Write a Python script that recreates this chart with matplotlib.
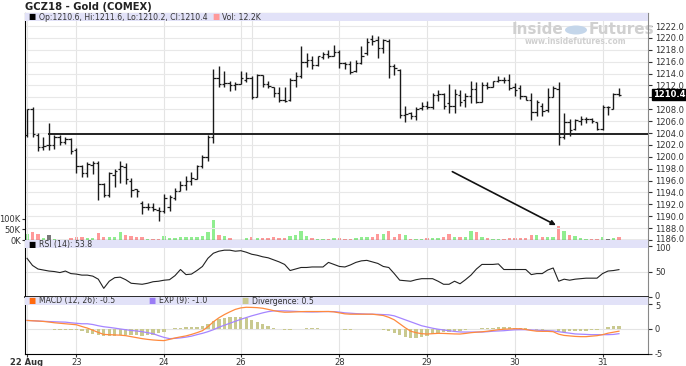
import matplotlib

matplotlib.use("Agg")
import matplotlib.pyplot as plt
from matplotlib.patches import Ellipse, Rectangle
from matplotlib.transforms import ScaledTranslation

# 90-minute bars, GCZ18, 22-31 Aug
opens = [1203.6, 1208.0, 1203.7, 1201.6, 1201.9, 1202.0, 1203.3, 1202.5, 1203.0, 1201.2,
         1198.4, 1197.3, 1198.6, 1199.0, 1195.5, 1193.5, 1197.0, 1198.0, 1198.2, 1196.0,
         1194.5, 1192.2, 1191.5, 1191.6, 1191.0, 1190.8, 1191.5, 1193.0, 1194.3, 1195.3,
         1196.0, 1196.3, 1198.5, 1200.0, 1203.4, 1213.2, 1212.2, 1212.4, 1212.0, 1212.3,
         1213.0, 1213.3, 1210.0, 1213.8, 1212.2, 1211.8, 1210.8, 1209.6, 1209.5, 1212.9,
         1213.6, 1216.0, 1216.2, 1215.5, 1216.8, 1217.3, 1217.0, 1217.6, 1215.7, 1215.6,
         1214.5, 1215.8, 1217.4, 1219.8, 1219.6, 1218.3, 1219.5, 1215.3, 1214.6, 1207.0,
         1207.3, 1206.8, 1208.2, 1208.5, 1208.3, 1210.4, 1210.6, 1209.0, 1208.5, 1210.4,
         1209.5, 1210.3, 1211.4, 1209.3, 1212.0, 1211.8, 1212.7, 1213.0, 1212.9, 1211.7,
         1211.6, 1210.2, 1209.6, 1207.5, 1208.6, 1207.8, 1210.1, 1211.4, 1203.3, 1205.8,
         1204.6, 1206.0, 1206.3, 1206.4, 1205.8, 1204.6, 1208.3, 1208.1, 1210.6]
highs = [1208.0, 1208.3, 1203.95, 1203.4, 1205.7, 1203.6, 1203.6, 1203.3, 1203.2, 1201.4,
         1198.6, 1199.2, 1199.3, 1199.3, 1195.6, 1197.5, 1197.9, 1199.3, 1199.0, 1196.5,
         1194.6, 1192.5, 1192.2, 1192.2, 1191.6, 1193.7, 1193.5, 1194.8, 1196.0, 1196.8,
         1197.4, 1198.6, 1200.3, 1203.7, 1214.7, 1215.2, 1214.5, 1212.8, 1212.6, 1214.5,
         1214.2, 1213.6, 1214.0, 1213.8, 1212.8, 1211.8, 1211.8, 1211.8, 1213.2, 1214.2,
         1218.6, 1217.4, 1217.0, 1217.0, 1217.7, 1218.0, 1218.8, 1217.9, 1216.0, 1216.1,
         1216.2, 1218.6, 1219.9, 1220.5, 1220.3, 1219.8, 1219.8, 1215.6, 1214.7, 1208.5,
         1207.6, 1208.4, 1209.3, 1209.4, 1210.8, 1211.2, 1210.8, 1212.2, 1211.4, 1211.3,
         1210.8, 1212.8, 1212.5, 1212.6, 1212.5, 1212.8, 1213.6, 1213.4, 1213.9, 1212.4,
         1212.0, 1210.3, 1210.8, 1209.6, 1209.0, 1211.5, 1211.9, 1212.6, 1207.3, 1206.3,
         1206.3, 1206.8, 1206.7, 1206.6, 1205.9, 1208.7, 1208.5, 1210.7, 1211.6]
lows = [1203.4, 1203.3, 1201.0, 1201.1, 1201.1, 1201.3, 1201.9, 1202.2, 1200.4, 1197.2,
        1196.6, 1196.6, 1197.1, 1192.7, 1193.2, 1193.3, 1195.0, 1195.6, 1195.4, 1193.3,
        1193.3, 1190.4, 1191.0, 1190.9, 1189.2, 1190.6, 1190.8, 1192.7, 1194.2, 1194.4,
        1195.3, 1196.3, 1198.1, 1199.3, 1202.3, 1211.8, 1211.8, 1211.0, 1211.2, 1212.3,
        1212.5, 1209.7, 1210.0, 1211.8, 1211.6, 1210.0, 1209.3, 1209.3, 1209.4, 1211.8,
        1213.2, 1215.1, 1214.8, 1215.3, 1216.5, 1216.6, 1216.9, 1214.9, 1214.8, 1214.0,
        1214.3, 1215.6, 1217.2, 1218.8, 1216.6, 1217.4, 1213.2, 1213.8, 1206.6, 1205.9,
        1206.4, 1206.2, 1207.9, 1208.0, 1208.0, 1209.4, 1208.0, 1207.3, 1207.4, 1208.5,
        1208.3, 1209.1, 1209.0, 1209.2, 1211.4, 1211.8, 1212.5, 1212.4, 1211.2, 1210.3,
        1209.7, 1209.6, 1206.2, 1206.8, 1206.9, 1207.6, 1210.0, 1202.0, 1203.0, 1203.5,
        1204.5, 1205.4, 1205.6, 1205.6, 1204.5, 1204.5, 1207.1, 1208.1, 1210.2]
closes = [1208.0, 1203.8, 1201.6, 1201.8, 1201.9, 1203.3, 1202.5, 1203.0, 1201.0, 1198.4,
          1197.2, 1198.8, 1198.9, 1195.5, 1193.5, 1197.3, 1197.6, 1198.5, 1196.2, 1194.4,
          1194.2, 1191.5, 1191.6, 1191.2, 1190.8, 1193.0, 1193.2, 1194.3, 1195.3, 1195.9,
          1196.5, 1198.4, 1199.9, 1203.3, 1213.2, 1212.2, 1212.4, 1212.0, 1212.3, 1213.3,
          1213.3, 1210.0, 1213.8, 1212.2, 1211.9, 1210.8, 1209.6, 1209.4, 1213.0, 1213.6,
          1216.0, 1216.2, 1215.5, 1217.0, 1217.3, 1217.0, 1217.6, 1215.7, 1215.6, 1214.3,
          1215.8, 1217.0, 1219.3, 1219.4, 1218.3, 1219.7, 1215.3, 1215.0, 1207.0, 1207.2,
          1206.8, 1208.1, 1208.5, 1208.3, 1210.4, 1210.6, 1208.5, 1208.5, 1210.5, 1209.3,
          1210.3, 1211.4, 1209.3, 1212.0, 1211.8, 1212.7, 1213.0, 1212.9, 1211.5, 1211.3,
          1210.2, 1209.6, 1207.5, 1209.2, 1207.7, 1210.1, 1211.5, 1203.3, 1205.8, 1204.5,
          1206.2, 1206.3, 1206.4, 1206.0, 1204.6, 1208.4, 1208.3, 1210.6, 1210.4]
volume_k = [29, 35, 29, 10, 21, 5, 2, 2, 10, 16, 13, 10, 11, 33, 13, 13, 13, 35, 25, 17,
            13, 16, 3, 3, 5, 17, 10, 10, 13, 13, 13, 13, 20, 35, 92, 25, 19, 8, 2, 2,
            10, 14, 11, 10, 10, 14, 11, 11, 20, 24, 44, 20, 11, 3, 3, 3, 8, 10, 5, 5,
            10, 16, 16, 16, 29, 27, 44, 13, 29, 21, 4, 3, 3, 8, 8, 8, 13, 27, 13, 13,
            16, 44, 37, 16, 10, 4, 3, 3, 8, 8, 8, 8, 21, 21, 16, 13, 13, 63, 44, 21,
            19, 8, 3, 3, 5, 16, 5, 8, 12.2]
rsi = [76, 62, 55, 53, 51, 50, 48, 51, 46, 45, 43, 43, 41, 35, 17, 31, 38, 39, 34, 27,
       26, 25, 27, 30, 31, 33, 34, 42, 54, 44, 45, 52, 60, 76, 86, 90, 92, 92, 90, 91,
       88, 84, 82, 79, 77, 73, 69, 64, 52, 55, 58, 58, 59, 59, 59, 68, 64, 60, 59, 63,
       68, 71, 72, 69, 66, 60, 58, 46, 33, 32, 31, 34, 36, 36, 36, 31, 25, 25, 31, 26,
       34, 43, 55, 64, 64, 64, 65, 54, 54, 54, 54, 54, 44, 46, 46, 53, 57, 31, 35, 33,
       35, 36, 37, 37, 37, 46, 51, 52, 53.8]
macd = [1.67, 1.6, 1.55, 1.47, 1.35, 1.2, 1.1, 1.0, 0.9, 0.8, 0.45, 0.13, -0.3, -0.75,
        -1.15, -1.2, -1.25, -1.3, -1.4, -1.6, -1.8, -2.0, -2.15, -2.27, -2.35, -2.4, -2.15,
        -1.87, -1.65, -1.45, -1.15, -0.8, -0.4, 0.4, 1.4, 2.2, 2.85, 3.4, 3.9, 4.2, 4.33,
        4.3, 4.25, 4.13, 3.9, 3.65, 3.45, 3.33, 3.35, 3.4, 3.45, 3.47, 3.47, 3.47, 3.47,
        3.47, 3.4, 3.2, 3.0, 2.93, 2.93, 2.93, 2.93, 2.93, 2.8, 2.67, 2.3, 1.8, 1.0, 0.2,
        -0.5, -0.8, -1.0, -1.07, -1.0, -0.93, -0.95, -1.0, -1.05, -1.07, -0.95, -0.8, -0.7,
        -0.62, -0.5, -0.35, -0.2, -0.1, -0.05, 0.0, 0.0, -0.15, -0.35, -0.5, -0.53, -0.53,
        -0.6, -1.1, -1.35, -1.45, -1.55, -1.6, -1.6, -1.5, -1.4, -1.2, -0.9, -0.7, -0.5]
signal = [1.67, 1.62, 1.55, 1.5, 1.45, 1.4, 1.36, 1.33, 1.2, 1.1, 1.0, 1.0, 0.85, 0.6,
          0.4, 0.27, 0.12, -0.05, -0.2, -0.35, -0.45, -0.6, -0.8, -1.0, -1.4, -1.75, -2.0,
          -1.95, -1.85, -1.7, -1.5, -1.2, -0.93, -0.6, -0.2, 0.3, 0.7, 1.1, 1.5, 1.9, 2.25,
          2.6, 2.9, 3.2, 3.45, 3.6, 3.6, 3.6, 3.55, 3.5, 3.45, 3.4, 3.38, 3.4, 3.45, 3.47,
          3.45, 3.35, 3.2, 3.13, 3.05, 3.0, 2.95, 2.93, 2.9, 2.85, 2.8, 2.6, 2.2, 1.8, 1.4,
          1.0, 0.6, 0.35, 0.1, -0.1, -0.25, -0.4, -0.55, -0.65, -0.67, -0.67, -0.67, -0.67,
          -0.6, -0.5, -0.45, -0.4, -0.3, -0.22, -0.2, -0.2, -0.25, -0.3, -0.35, -0.4, -0.45,
          -0.6, -0.75, -0.9, -1.05, -1.1, -1.15, -1.2, -1.2, -1.2, -1.2, -1.15, -1.0]
day_ticks = [0, 9, 25, 39, 57, 73, 89, 105]
day_labels = ["22 Aug", "23", "24", "26", "28", "29", "30", "31"]
monday_tick = 41
support_level = 1203.9
arrow_from = (77.6, 1197.5)
arrow_to = (96.5, 1188.5)

x = list(range(len(closes)))
divergence = [m - s for m, s in zip(macd, signal)]
XLIM = (-0.37, 113.3)
BAND = "#e2e2f8"
TXT = "#333333"
FS = 6.0
LFS = 5.6

fig = plt.figure(figsize=(6.86, 3.66), dpi=100)
W, H = 686, 366


def rect(top, bottom):
    return [25 / W, (H - bottom) / H, 623 / W, (bottom - top) / H]


def legend_band(ax, px):
    ax.add_patch(Rectangle((0, 1 - px), 1, px, transform=ax.transAxes,
                           facecolor=BAND, edgecolor="none", zorder=5))


def legend_item(ax, xp, px, color, label):
    ax.text(xp, 1 - px / 2, "■", transform=ax.transAxes, fontsize=5.5, color=color,
            va="center", zorder=6)
    ax.text(xp + 0.017, 1 - px / 2, label, transform=ax.transAxes, fontsize=LFS,
            color=TXT, va="center", zorder=6)


def nudge(label, dy_px):
    label.set_transform(label.get_transform() +
                        ScaledTranslation(0, dy_px / 100, fig.dpi_scale_trans))


def style_axis(ax):
    ax.set_xlim(*XLIM)
    ax.yaxis.tick_right()
    ax.tick_params(axis="y", labelsize=FS, length=3, colors=TXT, pad=2)
    ax.tick_params(axis="x", length=0, labelbottom=False)
    for side in ("top", "right"):
        ax.spines[side].set_color("#888888")
        ax.spines[side].set_linewidth(0.8)
    ax.spines["left"].set_color("black")
    ax.spines["bottom"].set_color("black")
    for t in day_ticks:
        ax.axvline(t, color="#e4e4e4", lw=0.8, zorder=0)


# volume (drawn behind the price bars)
vax = fig.add_axes(rect(13, 240))
vax.set_xlim(*XLIM)
vax.set_ylim(0, 100 * 227 / 21.5)
vcols = ["#90ee90" if c > o else ("#ff9999" if c < o else "#777777")
         for o, c in zip(opens, closes)]
vax.bar(x, volume_k, width=0.62, color=vcols, zorder=1)
vax.set_yticks([0, 50, 100])
vax.set_yticklabels(["0K", "50K", "100K"])
vax.tick_params(axis="y", labelsize=FS, length=2, colors=TXT, pad=1)
vax.tick_params(axis="x", length=0, labelbottom=False)
for side in vax.spines.values():
    side.set_visible(False)

ax = fig.add_axes(rect(13, 240))
ax.patch.set_visible(False)
style_axis(ax)
ax.axvline(monday_tick, color="#e4e4e4", lw=0.8, zorder=0)
ax.set_ylim(1186.0, 1186.0 + 227 / 5.944)
ticks = [1186 + 2 * k for k in range(19)]
ax.set_yticks(ticks)
ax.set_yticklabels(["" if t == 1210 else f"{t:.1f}" for t in ticks])
nudge(ax.get_yticklabels()[0], 1.5)
for t in ticks:
    ax.axhline(t, color="#e8e8e8", lw=0.8, zorder=0)
ax.vlines(x, lows, highs, color="#1a1a1a", lw=1.0, zorder=3)
ax.hlines(opens, [i - 0.45 for i in x], x, color="#1a1a1a", lw=0.9, zorder=3)
ax.hlines(closes, x, [i + 0.45 for i in x], color="#1a1a1a", lw=0.9, zorder=3)
ax.hlines(support_level, 3.8, XLIM[1], color="#222222", lw=1.4, zorder=4)
ax.annotate("", xy=arrow_to, xytext=arrow_from,
            arrowprops=dict(arrowstyle="-|>", color="#111111", lw=1.2,
                            mutation_scale=7, shrinkA=0, shrinkB=0), zorder=4)
legend_band(ax, 8 / 227)
legend_item(ax, 0.006, 8 / 227, "black",
            f"Op:{opens[-1]:.1f}, Hi:{highs[-1]:.1f}, Lo:{lows[-1]:.1f}, Cl:{closes[-1]:.1f}")
legend_item(ax, 0.300, 8 / 227, "#ff9999", f"Vol: {volume_k[-1]}K")
ax.text(1.008, closes[-1], f"{closes[-1]:.1f}", transform=ax.get_yaxis_transform(),
        fontsize=FS, color="white", va="center", ha="left", fontweight="bold",
        bbox=dict(boxstyle="square,pad=0.12", facecolor="black", edgecolor="black"))

# watermark
wm_y = 1 - 17 / 227
ax.text((563 - 25) / 623, wm_y, "Inside", transform=ax.transAxes, fontsize=11,
        fontweight="bold", color="#d0d0d0", ha="right", va="center", zorder=2)
ax.text((589 - 25) / 623, wm_y, "Futures", transform=ax.transAxes, fontsize=11,
        fontweight="bold", color="#d0d0d0", ha="left", va="center", zorder=2)
ax.add_patch(Ellipse(((576 - 25) / 623, wm_y), 22 / 623, 9 / 227, transform=ax.transAxes,
                     facecolor="#c4d6ea", edgecolor="none", zorder=2))
ax.text((576 - 25) / 623, 1 - 29 / 227, "www.insidefutures.com", transform=ax.transAxes,
        fontsize=5.5, fontweight="bold", color="#d0d0d0", ha="center", va="center", zorder=2)
fig.text(25 / W, 1 - 7 / H, "GCZ18 - Gold (COMEX)", fontsize=7.2, fontweight="bold",
         color="#222222", va="center")

# RSI
rax = fig.add_axes(rect(240, 297))
style_axis(rax)
rax.set_ylim(0, 112)
rax.set_yticks([0, 50, 100])
rlabels = rax.get_yticklabels()
nudge(rlabels[0], 1.5)
nudge(rlabels[2], -1.5)
rax.axhline(50, color="#e4e4e4", lw=0.8, zorder=0)
rax.plot(x, rsi, color="#222222", lw=0.8, zorder=3)
legend_band(rax, 8 / 57)
legend_item(rax, 0.006, 8 / 57, "black", f"RSI (14): {rsi[-1]}")
rax.spines["bottom"].set_linewidth(1.2)

# MACD
max_ = fig.add_axes(rect(297, 354))
style_axis(max_)
max_.set_ylim(-5.1, 6.4)
max_.set_yticks([-5, 0, 5])
max_.set_yticklabels(["-5", "0", "5"])
nudge(max_.get_yticklabels()[2], -1.5)
max_.axhline(0, color="#e4e4e4", lw=0.8, zorder=0)
max_.bar(x, divergence, width=0.62, color="#c9c98f", zorder=2)
max_.plot(x, signal, color="#a585ff", lw=0.9, zorder=3)
max_.plot(x, macd, color="#ff8a3d", lw=0.9, zorder=4)
legend_band(max_, 8 / 57)
legend_item(max_, 0.006, 8 / 57, "#ff6a10", f"MACD (12, 26): {macd[-1]:.1f}")
legend_item(max_, 0.198, 8 / 57, "#9a7cf5", f"EXP (9): {signal[-1]:.1f}")
legend_item(max_, 0.347, 8 / 57, "#c9c98f", f"Divergence: {divergence[-1]:.1f}")
max_.set_xticks(day_ticks)
max_.set_xticklabels(day_labels)
max_.tick_params(axis="x", length=2, labelsize=FS, colors=TXT, pad=1, labelbottom=True)
max_.get_xticklabels()[0].set_fontweight("bold")

fig.savefig("out.png", dpi=100)
